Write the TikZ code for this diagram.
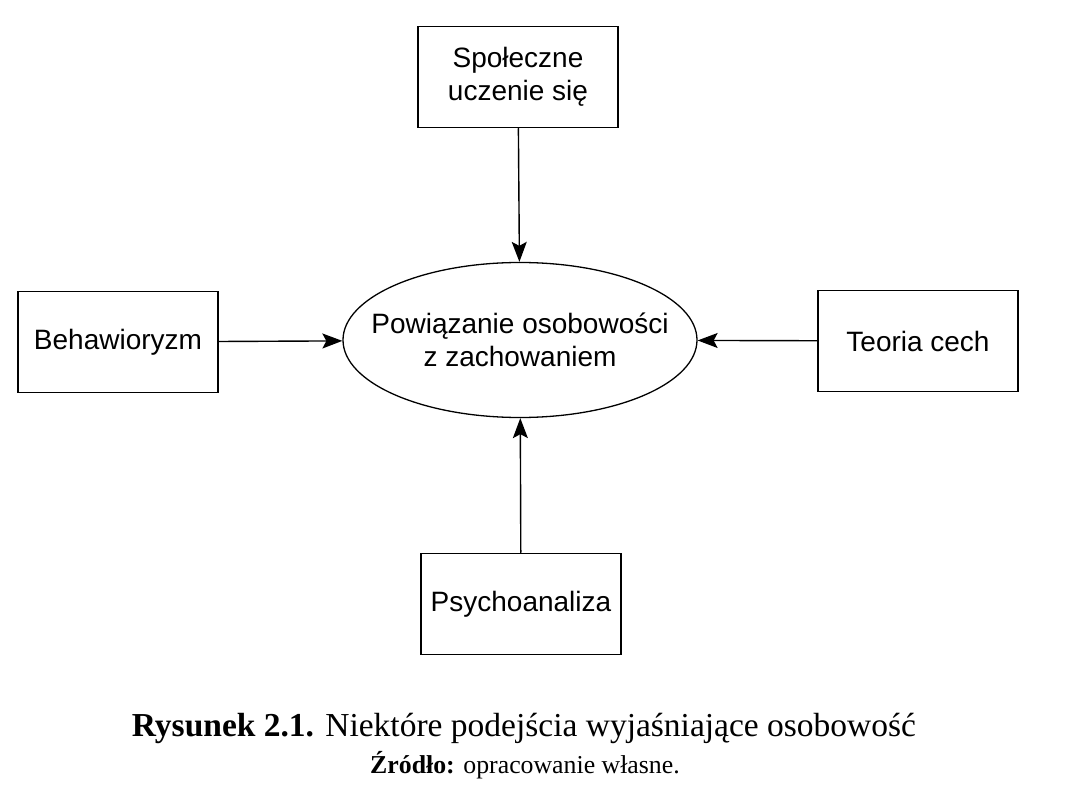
\documentclass[tikz,border=0pt]{standalone}
\usepackage{fontspec}
\setmainfont{Liberation Serif}
\setsansfont{Liberation Sans}
\usetikzlibrary{arrows.meta,shapes.geometric}
\newcommand\BoxFont{\sffamily\fontsize{28}{33}\selectfont}
\tikzset{
  approach/.style={
    shape = rectangle,
    draw,
    line width = 1.5pt,
    minimum width = 200pt,
    minimum height = 101pt,
    align = center,
    font = \BoxFont
  },
}
\tikzset{
  core/.style={
    shape = ellipse,
    draw,
    line width = 1.3pt,
    inner xsep = -30pt,
    inner ysep = 0pt,
    minimum width = 354pt,
    minimum height = 155pt,
    align = center,
    font = \BoxFont
  },
}
\tikzset{
  influence/.style={
    line width = 1.4pt,
    -{Stealth[length=20pt,width=15pt,inset=4pt]}
  },
  caption/.style={
    inner sep = 0pt,
    font = \fontsize{33.5}{36}\selectfont
  },
  source/.style={
    inner sep = 0pt,
    font = \fontsize{25.8}{28}\selectfont
  }
}

\begin{document}
\begin{tikzpicture}[x=1pt,y=-1pt]
    \useasboundingbox (0,0) rectangle (1080,810);
    \node[core] (link) at (520,340) {Powiązanie osobowości\\z zachowaniem};

    \node[approach] (social) at (518,77) {Społeczne\\uczenie się};
    \node[approach] (behav) at (118,342) {Behawioryzm};
    \node[approach] (traits) at (918,341) {Teoria cech};
    \node[approach] (psycho) at (521,604) {Psychoanaliza};

    \draw[influence] (social) -- (link);
    \draw[influence] (behav) -- (link);
    \draw[influence] (traits) -- (link);
    \draw[influence] (psycho) -- (link);

    \node[caption] (title) at (524,728) {\textbf{Rysunek 2.1.} Niektóre podejścia wyjaśniające osobowość};
    \node[source] (origin) at (525,765) {\textbf{Źródło:} opracowanie własne.};
\end{tikzpicture}
\end{document}
